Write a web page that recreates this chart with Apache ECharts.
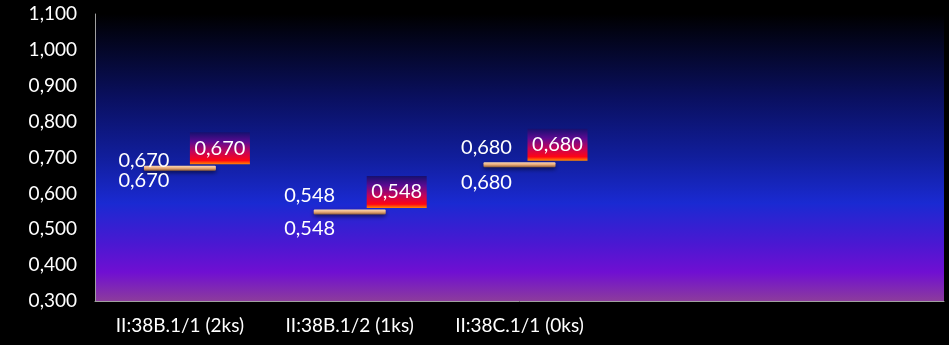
<!DOCTYPE html>
<html>
<head>
<meta charset="utf-8">
<script src="https://cdn.jsdelivr.net/npm/echarts@6/dist/echarts.min.js"></script>
<style>
html,body{margin:0;padding:0;background:#000;}
#c{width:949px;height:345px;}
</style>
</head>
<body>
<div id="c"></div>
<script>
// ---- data ----
const categories = ['II:38B.1/1 (2ks)', 'II:38B.1/2 (1ks)', 'II:38C.1/1 (0ks)', '', ''];
const highValues = [0.670, 0.548, 0.680];
const lowValues = [0.670, 0.548, 0.680];
const closeValues = [0.670, 0.548, 0.680];
const yMin = 0.3, yMax = 1.1, yStep = 0.1;

// ---- layout tweaks (label placement per point) ----
const hiLabelDy = [-8, -16, -17];
const loLabelDy = [12, 17, 18];
const hiLabelDx = [-36, -40, -33];
const boxDx = [10, 17, 8];

const fmt = v => v.toFixed(3).replace('.', ',');
const FONT = 'Lato, "Open Sans", sans-serif';

const seriesData = highValues.map((h, i) => [i, h, lowValues[i], closeValues[i]]);

const chart = echarts.init(document.getElementById('c'));
chart.setOption({
  backgroundColor: '#000',
  animation: false,
  grid: {
    left: 95, right: 5, top: 14, bottom: 44,
    show: true, borderWidth: 0,
    backgroundColor: {
      type: 'linear', x: 0, y: 0, x2: 0, y2: 1,
      colorStops: [
        {offset: 0, color: '#000000'},
        {offset: 0.3, color: '#0a1062'},
        {offset: 0.5, color: '#111e9c'},
        {offset: 0.66, color: '#1a2ad2'},
        {offset: 0.8, color: '#4a18d2'},
        {offset: 0.9, color: '#700fd2'},
        {offset: 1, color: '#8c3c9c'}
      ]
    }
  },
  xAxis: {
    type: 'category',
    data: categories,
    axisLine: {show: true, lineStyle: {color: '#a0a0a0', width: 1}},
    axisTick: {show: false},
    axisLabel: {color: '#fff', fontSize: 19, fontFamily: FONT, margin: 15, interval: 0},
    splitLine: {show: false}
  },
  yAxis: {
    type: 'value',
    min: yMin, max: yMax, interval: yStep,
    axisLine: {show: true, lineStyle: {color: '#a0a0a0', width: 1}},
    axisTick: {show: false},
    splitLine: {show: false},
    axisLabel: {
      color: '#fff', fontSize: 19, fontFamily: FONT, margin: 18,
      formatter: v => fmt(v)
    }
  },
  series: [{
    type: 'custom',
    data: seriesData,
    encode: {x: 0, y: [1, 2, 3]},
    renderItem: function (params, api) {
      const i = params.dataIndex;
      const x = api.value(0);
      const hi = api.value(1), lo = api.value(2), cl = api.value(3);
      const pHi = api.coord([x, hi]);
      const pLo = api.coord([x, lo]);
      const pCl = api.coord([x, cl]);
      const cx = pCl[0];
      const bw = api.size([1, 0])[0] * 0.424;
      const children = [];
      children.push({
        type: 'rect',
        shape: {x: cx - bw / 2, y: pCl[1] - 2.5, width: bw, height: 5, r: 1},
        style: {
          fill: {
            type: 'linear', x: 0, y: 0, x2: 0, y2: 1,
            colorStops: [
              {offset: 0, color: '#fbd9b5'},
              {offset: 0.5, color: '#e9aa78'},
              {offset: 1, color: '#8c5a36'}
            ]
          },
          shadowBlur: 4, shadowOffsetY: 2, shadowColor: 'rgba(0,0,0,0.55)'
        }
      });
      children.push({
        type: 'text',
        style: {
          x: cx + hiLabelDx[i], y: pHi[1] + hiLabelDy[i],
          text: fmt(hi), fill: '#fff', font: '20px ' + FONT,
          align: 'center', verticalAlign: 'middle'
        }
      });
      children.push({
        type: 'text',
        style: {
          x: cx + hiLabelDx[i], y: pLo[1] + loLabelDy[i],
          text: fmt(lo), fill: '#fff', font: '20px ' + FONT,
          align: 'center', verticalAlign: 'middle'
        }
      });
      const bx = cx + boxDx[i], by = pCl[1] - 36;
      children.push({
        type: 'rect',
        shape: {x: bx, y: by, width: 60, height: 32},
        style: {
          fill: {
            type: 'linear', x: 0, y: 0, x2: 0, y2: 1,
            colorStops: [
              {offset: 0, color: '#16106e'},
              {offset: 0.3, color: '#5c0a92'},
              {offset: 0.6, color: '#c0045c'},
              {offset: 0.88, color: '#ff0414'},
              {offset: 1, color: '#ff8a00'}
            ]
          }
        }
      });
      children.push({
        type: 'text',
        style: {
          x: bx + 30, y: by + 16,
          text: fmt(cl), fill: '#fff', font: '20px ' + FONT,
          align: 'center', verticalAlign: 'middle'
        }
      });
      return {type: 'group', children: children};
    }
  }]
});
</script>
</body>
</html>
